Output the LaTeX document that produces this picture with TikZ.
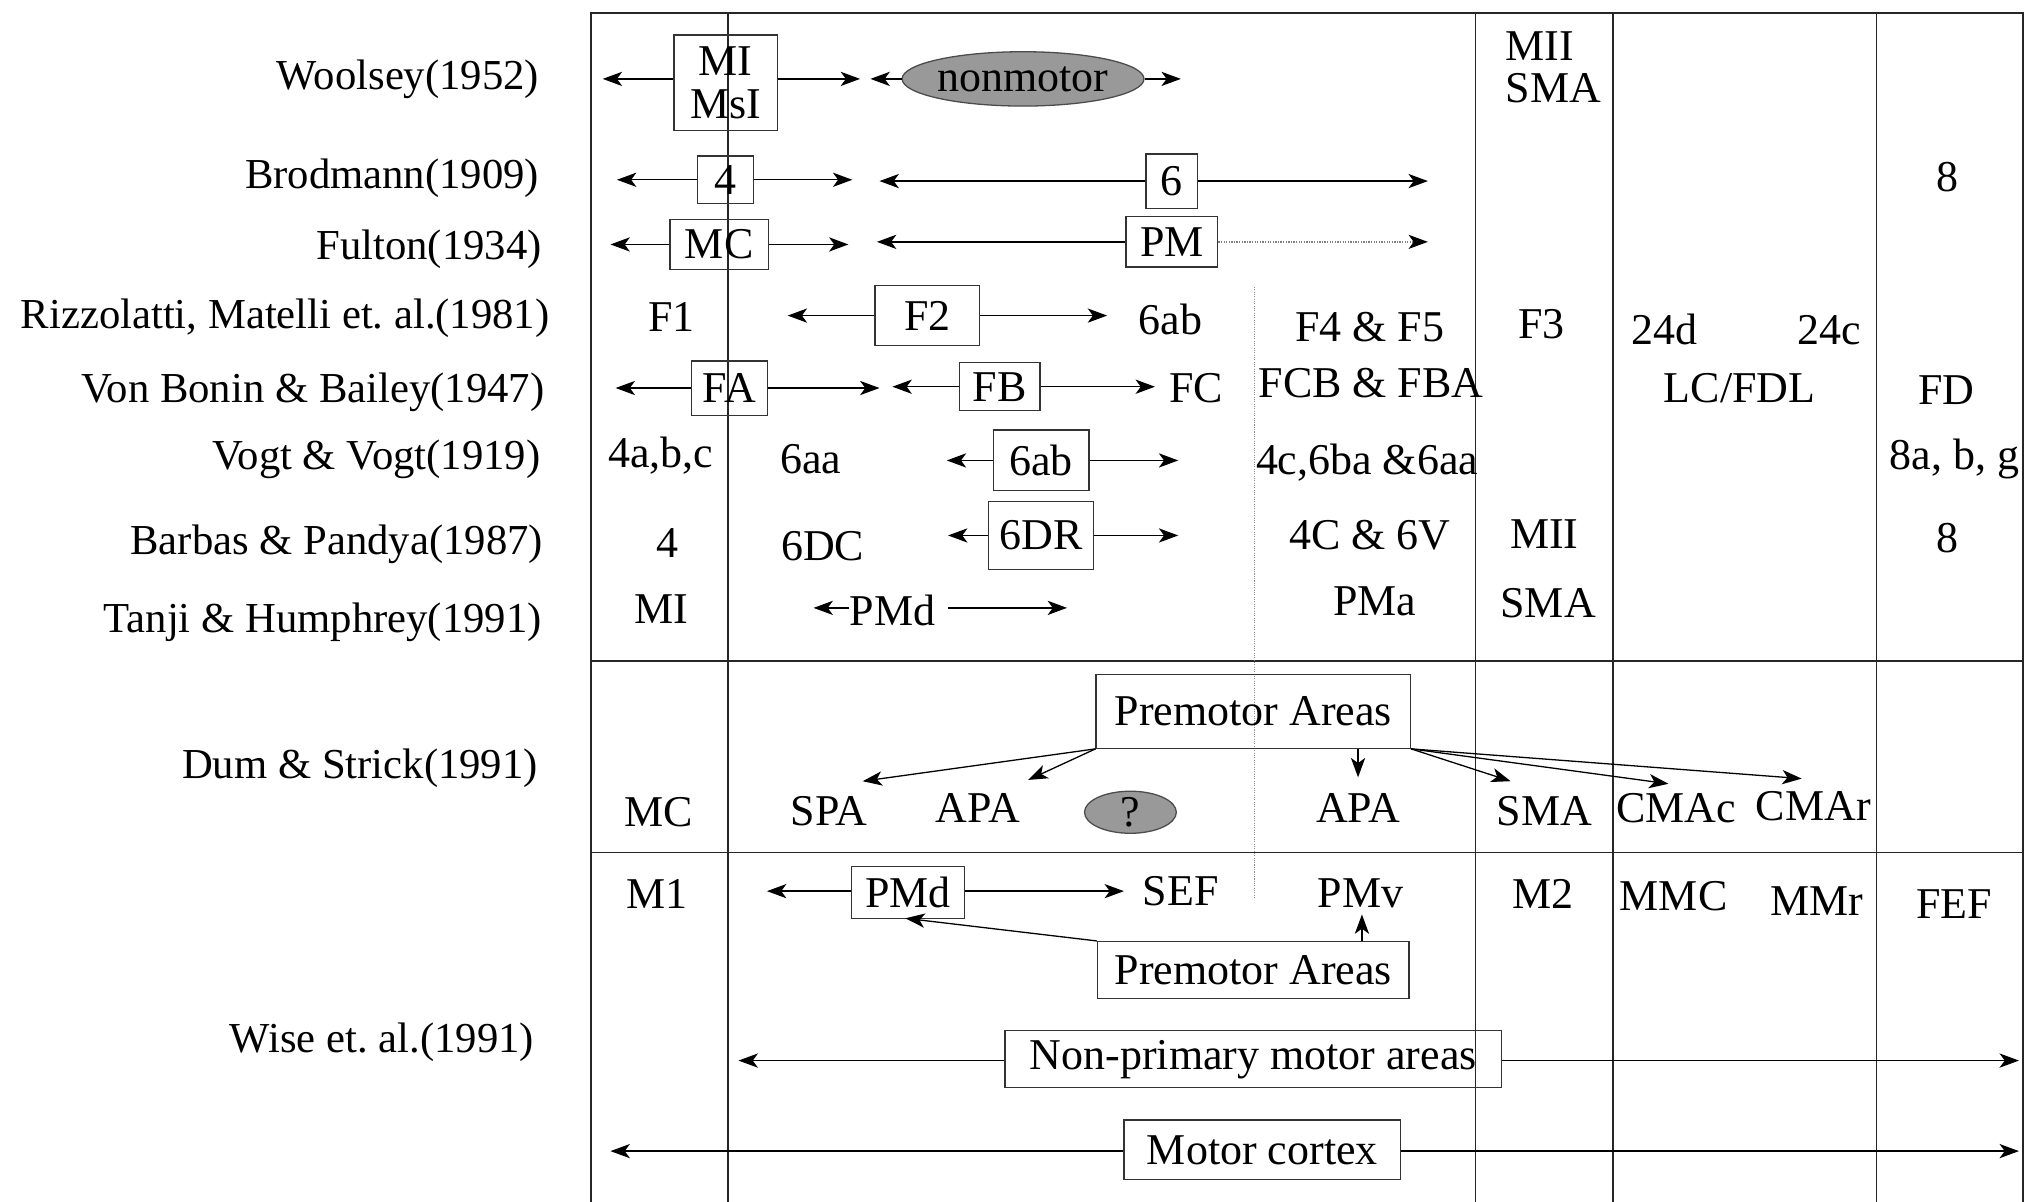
\documentclass[tikz,border=0pt]{standalone}
\usepackage{fontspec}
\setmainfont{Liberation Serif}
\usetikzlibrary{arrows.meta,shapes.geometric}
\newcommand\tabfont{\fontsize{34}{33}\selectfont}
\newcommand\labfont{\fontsize{33}{36}\selectfont}
\frenchspacing
\begin{document}
\begin{tikzpicture}[x=1pt,y=-1pt,
  grid/.style={line width=1.1pt, draw=black!85},
  t/.style={inner sep=0pt, font=\tabfont},
  lab/.style={inner sep=0pt, font=\labfont, anchor=east},
  bx/.style n args={2}{draw=black!80, line width=1pt, inner sep=0pt, font=\tabfont, minimum width=#1, minimum height=#2},
  blob/.style n args={2}{ellipse, draw=black!70, fill=black!40, line width=1pt, inner sep=0pt, font=\tabfont, minimum width=#1, minimum height=#2},
  arr/.style={line width=1pt, -{Stealth[length=15pt,width=11pt,inset=4pt]}},
]
\useasboundingbox (0,0) rectangle (1568,929);
% grid
\draw[grid] (457,929) -- (457,10) -- (1564,10) -- (1564,929);
\draw[grid] (563,10) -- (563,929);
\draw[grid] (1141,10) -- (1141,929);
\draw[grid] (1247,10) -- (1247,929);
\draw[grid] (1451,10) -- (1451,929);
\draw[grid] (457,511) -- (1564,511);
\draw[grid] (457,659) -- (1564,659);
\draw[black!45, densely dotted, line width=0.8pt] (970,222) -- (970,694);
% left labels
\node[lab] (l1) at (417,61) {Woolsey(1952)};
\node[lab] (l2) at (417,138) {Brodmann(1909)};
\node[lab] (l3) at (419,193) {Fulton(1934)};
\node[lab] (l4) at (425,246) {Rizzolatti, Matelli et. al.(1981)};
\node[lab] (l5) at (421,303) {Von Bonin \& Bailey(1947)};
\node[lab] (l6) at (418,355) {Vogt \& Vogt(1919)};
\node[lab] (l7) at (420,421) {Barbas \& Pandya(1987)};
\node[lab] (l8) at (419,481) {Tanji \& Humphrey(1991)};
\node[lab] (l9) at (416,594) {Dum \& Strick(1991)};
\node[lab] (l10) at (413,806) {Wise et. al.(1991)};
% Woolsey
\node[bx={80pt}{74pt}, align=center] (mims) at (561,64) {MI\\MsI};
\node[blob={169pt}{42pt}] (nonm) at (791,61) {nonmotor};
\coordinate (w1) at (466,61); \coordinate (w2) at (665,61);
\coordinate (w3) at (673,61); \coordinate (w4) at (913,61);
\draw[arr] (mims.west |- w1) -- (w1);
\draw[arr] (mims.east |- w2) -- (w2);
\draw[arr] (nonm.west) -- (w3);
\draw[arr] (nonm.east) -- (w4);
\node[t, anchor=west, align=left] (miisma) at (1164,52) {MII\\SMA};
% Brodmann
\node[bx={43pt}{37pt}] (b4) at (561,139) {4};
\node[bx={40pt}{42pt}] (b6) at (906,140) {6};
\coordinate (b1) at (477,139); \coordinate (b2) at (659,139);
\coordinate (b3) at (680,140); \coordinate (b5) at (1104,140);
\draw[arr] (b4.west) -- (b1);
\draw[arr] (b4.east) -- (b2);
\draw[arr] (b6.west) -- (b3);
\draw[arr] (b6.east) -- (b5);
\node[t] (b8) at (1506,137) {8};
% Fulton
\node[bx={76pt}{39pt}] (fmc) at (556,189) {MC};
\node[bx={71pt}{39pt}] (fpm) at (906,187) {PM};
\coordinate (f1) at (472,189); \coordinate (f2) at (656,189);
\coordinate (f3) at (678,187); \coordinate (f4) at (1104,187);
\draw[arr] (fmc.west) -- (f1);
\draw[arr] (fmc.east) -- (f2);
\draw[arr] (fpm.west) -- (f3);
\draw[black!50, densely dotted, line width=1pt] (fpm.east) -- ([xshift=-11pt]f4);
\fill (f4) -- ++(-15,-5.5) -- ++(4,5.5) -- ++(-4,5.5) -- cycle;
% Rizzolatti
\node[t] (rf1) at (519,245) {F1};
\node[bx={81pt}{46pt}] (rf2) at (717,244) {F2};
\coordinate (r1) at (609,244); \coordinate (r2) at (856,244);
\draw[arr] (rf2.west) -- (r1);
\draw[arr] (rf2.east) -- (r2);
\node[t] (r6ab) at (905,247) {6ab};
\node[t] (rf45) at (1059,253) {F4 \& F5};
\node[t] (rf3) at (1192,251) {F3};
\node[t] (r24d) at (1287,255) {24d};
\node[t] (r24c) at (1414,255) {24c};
% Von Bonin
\node[bx={59pt}{42pt}] (vfa) at (564,300) {FA};
\node[bx={62pt}{37pt}] (vfb) at (773,299) {FB};
\coordinate (v1) at (476,300); \coordinate (v2) at (680,300);
\coordinate (v3) at (690,299); \coordinate (v4) at (893,299);
\draw[arr] (vfa.west) -- (v1);
\draw[arr] (vfa.east) -- (v2);
\draw[arr] (vfb.west) -- (v3);
\draw[arr] (vfb.east) -- (v4);
\node[t] (vfc) at (925,300) {FC};
\node[t] (vfcb) at (1060,296) {FCB \& FBA};
\node[t] (vlc) at (1345,300) {LC/FDL};
\node[t] (vfd) at (1505,302) {FD};
% Vogt
\node[t] (g4abc) at (511,352) {4a,b,c};
\node[t] (g6aa) at (627,355) {6aa};
\node[bx={74pt}{47pt}] (g6ab) at (805,356) {6ab};
\coordinate (g1) at (732,356); \coordinate (g2) at (911,356);
\draw[arr] (g6ab.west) -- (g1);
\draw[arr] (g6ab.east) -- (g2);
\node[t] (g4c) at (1057,358) {4c,6ba \&6aa};
\node[t] (g8a) at (1511,355) {8a, b, g};
% Barbas
\node[t] (p4) at (516,420) {4};
\node[t] (p6dc) at (636,422) {6DC};
\node[bx={81pt}{53pt}] (p6dr) at (805,414) {6DR};
\coordinate (p1) at (733,414); \coordinate (p2) at (911,414);
\draw[arr] (p6dr.west) -- (p1);
\draw[arr] (p6dr.east) -- (p2);
\node[t] (p4c) at (1059,414) {4C \& 6V};
\node[t] (pmii) at (1194,413) {MII};
\node[t] (p8) at (1506,416) {8};
% Tanji
\node[t] (tmi) at (511,471) {MI};
\node[t] (tpmd) at (690,472) {PMd};
\coordinate (t1) at (629,470); \coordinate (t2) at (825,470);
\draw[arr] (tpmd.west |- t1) -- (t1);
\draw[arr] ([xshift=10pt]tpmd.east |- t2) -- (t2);
\node[t] (tpma) at (1063,465) {PMa};
\node[t] (tsma) at (1197,466) {SMA};
% Dum & Strick
\node[bx={243pt}{57pt}] (dpa) at (969,550) {Premotor Areas};
\node[t] (dmc) at (509,628) {MC};
\node[t] (dspa) at (641,627) {SPA};
\node[t] (dapa) at (756,625) {APA};
\node[blob={71pt}{30pt}] (dq) at (874,628) {?};
\node[t] (dapb) at (1050,625) {APA};
\node[t] (dsma) at (1194,627) {SMA};
\node[t] (dcmac) at (1296,625) {CMAc};
\node[t] (dcmar) at (1402,623) {CMAr};
\coordinate (d1) at (667,604); \coordinate (d2) at (795,603);
\coordinate (d3) at (1050,601); \coordinate (d4) at (1168,604);
\coordinate (d5) at (1290,606); \coordinate (d6) at (1393,602);
\draw[arr] (dpa.south west) -- (d1);
\draw[arr] (dpa.south west) -- (d2);
\draw[arr] (dpa.south -| d3) -- (d3);
\draw[arr] (dpa.south east) -- (d4);
\draw[arr] (dpa.south east) -- (d5);
\draw[arr] (dpa.south east) -- (d6);
% Wise
\node[t] (wm1) at (508,691) {M1};
\node[bx={87pt}{40pt}] (wpmd) at (702,690) {PMd};
\coordinate (x1) at (593,689); \coordinate (x2) at (869,689);
\draw[arr] (wpmd.west |- x1) -- (x1);
\draw[arr] (wpmd.east |- x2) -- (x2);
\node[t] (wsef) at (913,689) {SEF};
\node[t] (wpmv) at (1052,691) {PMv};
\node[t] (wm2) at (1193,691) {M2};
\node[t] (wmmc) at (1294,693) {MMC};
\node[t] (wmmr) at (1405,697) {MMr};
\node[t] (wfef) at (1511,699) {FEF};
\node[bx={241pt}{44pt}] (wpa) at (969,750) {Premotor Areas};
\coordinate (x3) at (700,710); \coordinate (x4) at (1053,707);
\draw[arr] (wpa.north west) -- (x3);
\draw[arr] (wpa.north -| x4) -- (x4);
\node[bx={384pt}{44pt}] (wnp) at (969,819) {Non-primary motor areas};
\coordinate (x5) at (571,820); \coordinate (x6) at (1561,820);
\draw[arr] (wnp.west |- x5) -- (x5);
\draw[arr] (wnp.east |- x6) -- (x6);
\node[bx={214pt}{46pt}] (wmc) at (976,889) {Motor cortex};
\coordinate (x7) at (472,890); \coordinate (x8) at (1561,890);
\draw[arr] (wmc.west |- x7) -- (x7);
\draw[arr] (wmc.east |- x8) -- (x8);
\end{tikzpicture}
\end{document}
